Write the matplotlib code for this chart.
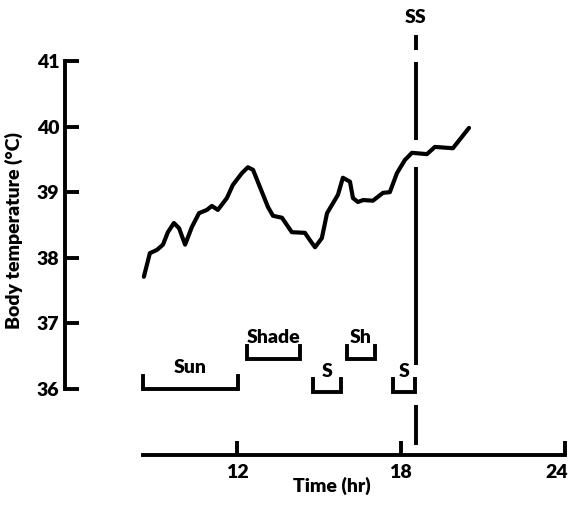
import matplotlib.pyplot as plt
from matplotlib.transforms import ScaledTranslation

# body temperature trace (hour of day, deg C)
hours = [8.59, 8.81, 9.07, 9.29, 9.47, 9.69, 9.88, 10.10, 10.35, 10.61, 10.90,
         11.08, 11.30, 11.63, 11.85, 12.18, 12.40, 12.59, 12.84, 13.14, 13.32,
         13.65, 14.01, 14.49, 14.67, 14.86, 15.11, 15.30, 15.70, 15.88, 16.14,
         16.25, 16.43, 16.62, 16.98, 17.35, 17.60, 17.86, 18.15, 18.41, 18.96,
         19.25, 19.91, 20.50]
temps = [37.71, 38.07, 38.12, 38.20, 38.39, 38.53, 38.45, 38.20, 38.47, 38.68,
         38.73, 38.79, 38.73, 38.91, 39.11, 39.29, 39.38, 39.34, 39.08, 38.77,
         38.64, 38.61, 38.39, 38.38, 38.27, 38.16, 38.30, 38.68, 38.96, 39.22,
         39.16, 38.91, 38.85, 38.88, 38.87, 38.99, 39.00, 39.29, 39.49, 39.60,
         39.58, 39.69, 39.67, 39.98]

# sun / shade periods
period_names = ["Sun", "Shade", "S", "Sh", "S"]
period_start = [8.56, 12.37, 14.78, 16.03, 17.71]
period_end = [12.04, 14.31, 15.81, 17.05, 18.52]
period_level = [36.0, 36.46, 35.95, 36.46, 35.95]

# sunset marker, drawn as a broken line
sunset = 18.56
ss_top = [41.40, 40.98, 39.38, 35.76]
ss_bottom = [41.17, 39.80, 36.37, 35.15]

x_ticks = [12, 18, 24]
y_ticks = [36, 37, 38, 39, 40, 41]

plt.rcParams['font.family'] = ['Lato', 'DejaVu Sans']
plt.rcParams['font.weight'] = 'heavy'
FS = 14

fig = plt.figure(figsize=(5.7, 5.07), dpi=100)
ax = fig.add_axes([0, 0, 1, 1])
ax.patch.set_alpha(0)

ax.plot(hours, temps, color='black', linewidth=3.0, solid_capstyle='round',
        solid_joinstyle='round')

for name, a, b, lev in zip(period_names, period_start, period_end, period_level):
    ax.plot([a, a, b, b], [lev + 0.2, lev, lev, lev + 0.2], color='black',
            linewidth=2.8, solid_joinstyle='miter')
    ax.text((a + b) / 2, lev + 0.19, name, ha='center', va='bottom',
            fontsize=FS, fontweight='heavy')

ax.vlines([sunset] * len(ss_top), ss_bottom, ss_top, color='black', linewidth=2.8)
ax.text(sunset, 41.66, "SS", ha='center', va='center', fontsize=FS, fontweight='heavy')

ax.set_xlim(3.32, 24.20)
ax.set_ylim(34.20, 41.93)

for s in ['top', 'right']:
    ax.spines[s].set_visible(False)
ax.spines['left'].set_position(('data', 5.70))
ax.spines['left'].set_bounds(36, 41)
ax.spines['bottom'].set_position(('data', 35.0))
ax.spines['bottom'].set_bounds(8.55, 24)
ax.spines['left'].set_linewidth(2.8)
ax.spines['bottom'].set_linewidth(2.8)

ax.set_xticks(x_ticks)
ax.set_yticks(y_ticks)
ax.tick_params(direction='in', length=10, width=2.8, labelsize=FS, pad=4)
ax.tick_params(axis='x', pad=7)
for lab in ax.get_xticklabels():
    lab.set_fontweight('heavy')
for lab in ax.get_yticklabels():
    lab.set_fontweight('heavy')
# keep the last x label inside the picture
last = ax.get_xticklabels()[-1]
last.set_transform(last.get_transform() + ScaledTranslation(-6 / 72, 0, fig.dpi_scale_trans))

ax.text(15.48, 34.52, "Time (hr)", ha='center', va='center', fontsize=FS,
        fontweight='heavy')
ax.text(3.83, 38.42, "Body temperature (\u00b0C)", ha='center', va='center',
        rotation=90, fontsize=FS, fontweight='heavy')

plt.savefig('out.png', dpi=100)
